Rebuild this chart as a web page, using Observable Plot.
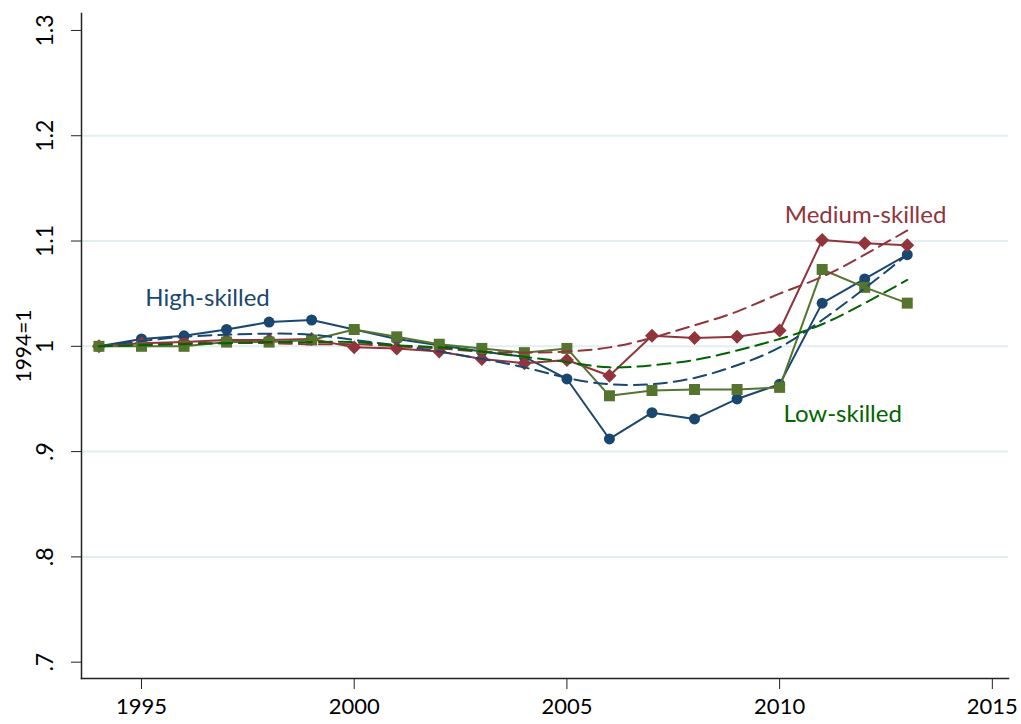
<!DOCTYPE html>
<html><head><meta charset="utf-8">
<script src="https://cdn.jsdelivr.net/npm/d3@7"></script>
<script src="https://cdn.jsdelivr.net/npm/@observablehq/plot@0.6"></script>
<style>body{margin:0;background:#fff}</style>
</head><body><div id="chart"></div>
<script>
const years = [1994,1995,1996,1997,1998,1999,2000,2001,2002,2003,2004,2005,2006,2007,2008,2009,2010,2011,2012,2013];
const high   = [1.000,1.007,1.010,1.016,1.023,1.025,1.016,1.007,1.001,0.995,0.990,0.969,0.912,0.937,0.931,0.950,0.964,1.041,1.064,1.087];
const medium = [1.000,1.003,1.004,1.006,1.006,1.007,0.999,0.998,0.995,0.988,0.984,0.987,0.972,1.010,1.008,1.009,1.015,1.101,1.098,1.096];
const low    = [1.000,1.000,1.000,1.004,1.004,1.006,1.016,1.009,1.002,0.998,0.994,0.998,0.953,0.958,0.959,0.959,0.961,1.073,1.056,1.041];
const highTrend   = [1.000,1.005,1.009,1.011,1.012,1.011,1.006,1.001,0.995,0.988,0.980,0.970,0.964,0.964,0.970,0.982,0.999,1.025,1.055,1.087];
const mediumTrend = [1.000,1.002,1.003,1.003,1.003,1.002,1.002,1.000,0.998,0.995,0.994,0.995,0.999,1.008,1.020,1.033,1.050,1.066,1.087,1.110];
const lowTrend    = [1.000,1.001,1.002,1.003,1.004,1.004,1.004,1.001,0.999,0.995,0.990,0.985,0.980,0.982,0.987,0.996,1.007,1.021,1.041,1.063];

const xTicks = [1995,2000,2005,2010,2015];
const xDomain = [1993.59, 2015.38];
const yTicks = [0.7,0.8,0.9,1.0,1.1,1.2,1.3];
const yTickLabels = [".7",".8",".9","1","1.1","1.2","1.3"];
const yGrid = [0.8,0.9,1.0,1.1,1.2];
const yDomain = [0.6845, 1.3161];
const yTitle = "1994=1";

const seriesLabels = [
  {text:"High-skilled", year:1995.09, value:1.0454, color:"#1a476f"},
  {text:"Medium-skilled", year:2010.12, value:1.1246, color:"#90353b"},
  {text:"Low-skilled", year:2010.09, value:0.9353, color:"#006400"}
];

const blue = "#1a476f", red = "#90353b", green = "#55752f", dkgreen = "#006400";
const toRows = (arr) => arr.map((v,i)=>({year: years[i], value: v}));

const chart = Plot.plot({
  width: 1021, height: 724,
  marginLeft: 81, marginRight: 13, marginTop: 13, marginBottom: 46,
  style: {fontFamily: "Lato, 'Open Sans', sans-serif", background: "#fff", color: "#000"},
  x: {domain: xDomain},
  y: {domain: yDomain},
  marks: [
    Plot.gridY(yGrid, {stroke: "#e4edf0", strokeOpacity: 1, strokeWidth: 2}),
    Plot.axisX({ticks: xTicks, tickFormat: d => String(d), tickSize: 11, tickPadding: 9, fontSize: 22, stroke: "#222", label: null}),
    Plot.axisY({ticks: yTicks, tickFormat: d => yTickLabels[yTicks.indexOf(d)], tickSize: 10, tickRotate: -90, tickPadding: 19, fontSize: 23, stroke: "#222", label: null}),
    Plot.text([yTitle], {frameAnchor: "left", dx: -51, rotate: -90, textAnchor: "middle", lineAnchor: "bottom", fontSize: 21, fill: "#000"}),
    Plot.frame({anchor: "left", stroke: "#222", strokeWidth: 1.5}),
    Plot.frame({anchor: "bottom", stroke: "#222", strokeWidth: 1.5}),
    Plot.line(toRows(high), {x: "year", y: "value", stroke: blue, strokeWidth: 2}),
    Plot.dot(toRows(high), {x: "year", y: "value", symbol: "circle", fill: blue, r: 5.5}),
    Plot.line(toRows(medium), {x: "year", y: "value", stroke: red, strokeWidth: 2}),
    Plot.dot(toRows(medium), {x: "year", y: "value", symbol: "diamond2", fill: red, r: 6.3}),
    Plot.line(toRows(low), {x: "year", y: "value", stroke: green, strokeWidth: 2}),
    Plot.dot(toRows(low), {x: "year", y: "value", symbol: "square", fill: green, r: 6.2}),
    Plot.line(toRows(highTrend), {x: "year", y: "value", stroke: blue, strokeWidth: 2, strokeDasharray: "13,7", curve: "natural"}),
    Plot.line(toRows(mediumTrend), {x: "year", y: "value", stroke: red, strokeWidth: 2, strokeDasharray: "13,7", curve: "natural"}),
    Plot.line(toRows(lowTrend), {x: "year", y: "value", stroke: dkgreen, strokeWidth: 2, strokeDasharray: "13,7", curve: "natural"}),
    Plot.text(seriesLabels, {x: "year", y: "value", text: "text", fill: "color", textAnchor: "start", lineAnchor: "middle", fontSize: 24})
  ]
});
document.getElementById("chart").append(chart);
</script>
</body></html>
